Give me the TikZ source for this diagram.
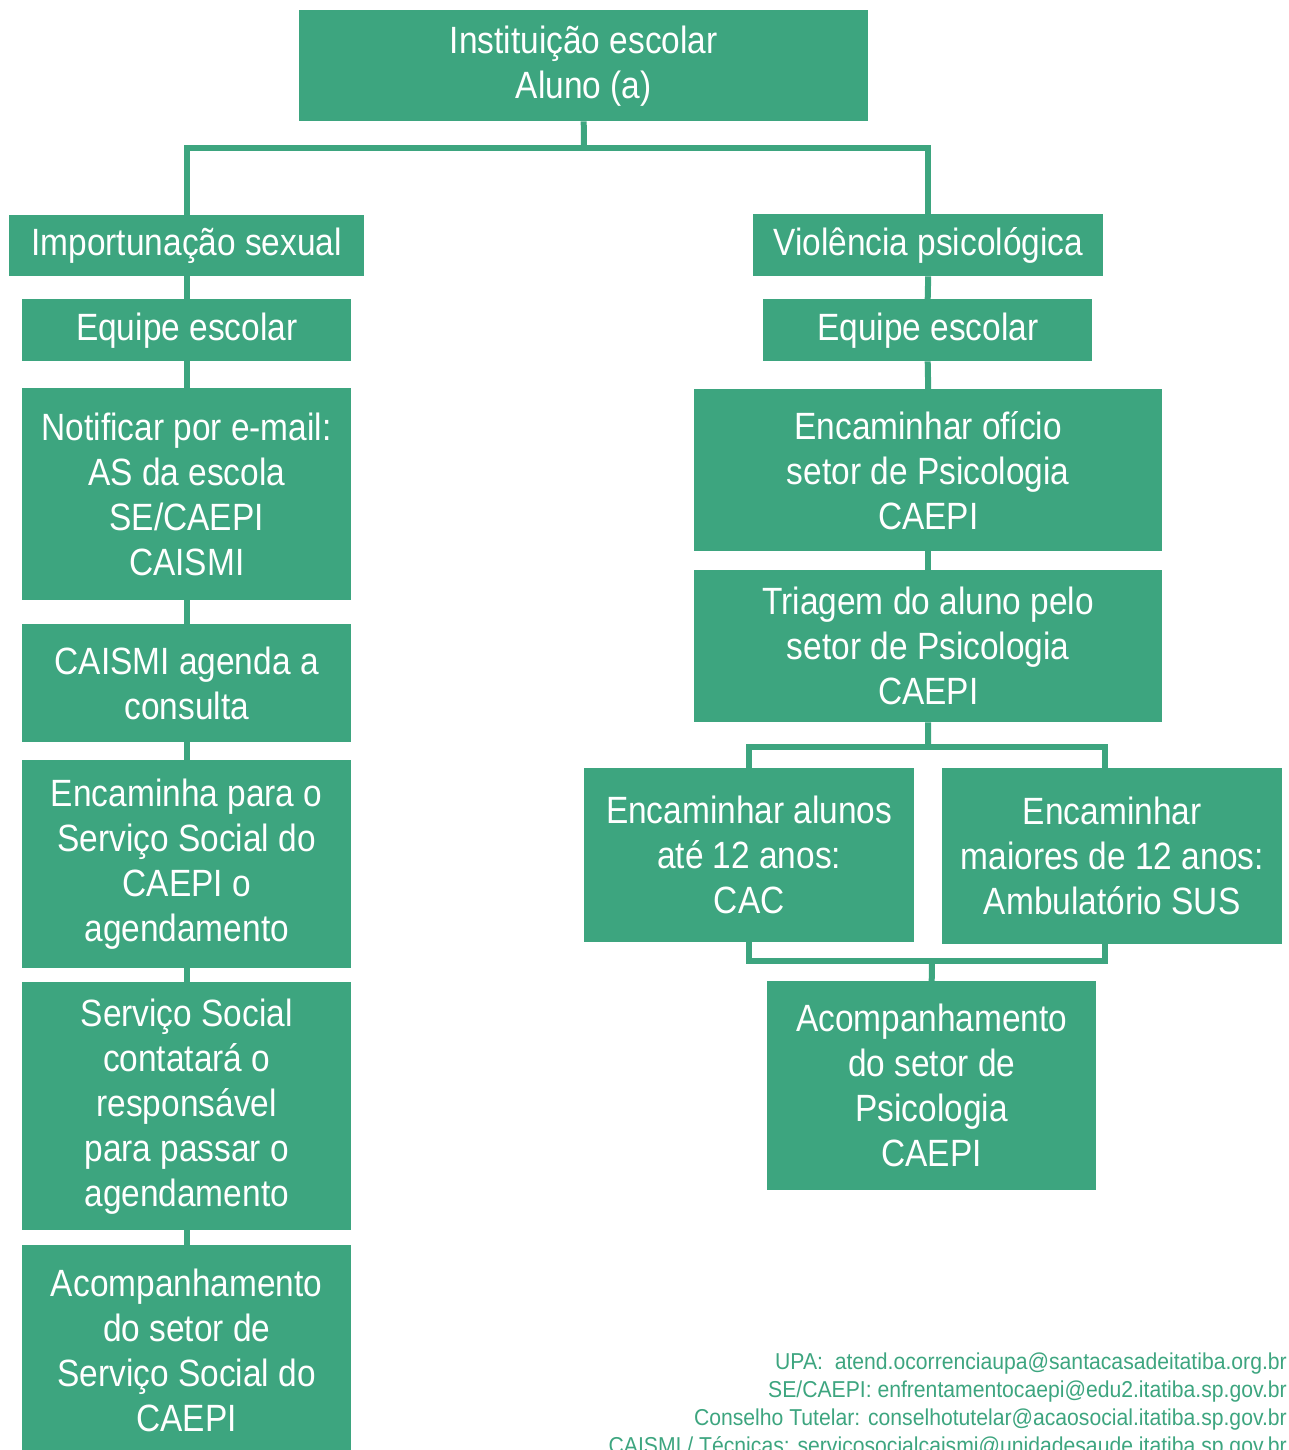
\documentclass[tikz,border=0pt]{standalone}
\usepackage{fontspec}
\setmainfont{Liberation Sans}[FakeStretch=0.88]
\newfontfamily\footfont{Liberation Sans}[FakeStretch=0.92]
\definecolor{gr}{RGB}{61,165,127}
\begin{document}
\begin{tikzpicture}[x=1pt,y=-1pt,
  box/.style={fill=gr, text=white, inner sep=0pt, align=center, anchor=north west,
    font=\fontsize{38}{45}\selectfont},
  conn/.style={draw=gr, line width=6pt},
  foot/.style={text=gr, inner sep=0pt, anchor=base east, font=\footfont\fontsize{23}{28}\selectfont}]
\useasboundingbox (0,0) rectangle (1288,1450);
% top
\node[box, minimum width=569, minimum height=111] (top) at (299,10) {Instituição escolar\\Aluno (a)};
\node[box, minimum width=355, minimum height=61] (imp) at (9,215) {Importunação sexual};
\node[box, minimum width=350, minimum height=62] (vio) at (753,214) {Violência psicológica};
% left column
\node[box, minimum width=329, minimum height=62] (eq1) at (22,299) {Equipe escolar};
\node[box, minimum width=329, minimum height=212] (not) at (22,388) {Notificar por e-mail:\\AS da escola\\SE/CAEPI\\CAISMI};
\node[box, minimum width=329, minimum height=118] (cai) at (22,624) {CAISMI agenda a\\consulta};
\node[box, minimum width=329, minimum height=208] (enc) at (22,760) {Encaminha para o\\Serviço Social do\\CAEPI o\\agendamento};
\node[box, minimum width=329, minimum height=248] (ser) at (22,982) {Serviço Social\\contatará o\\responsável\\para passar o\\agendamento};
\node[box, minimum width=329, minimum height=210] (acl) at (22,1245) {Acompanhamento\\do setor de\\Serviço Social do\\CAEPI};
% right column
\node[box, minimum width=329, minimum height=62] (eq2) at (763,299) {Equipe escolar};
\node[box, minimum width=468, minimum height=162] (ofi) at (694,389) {Encaminhar ofício\\setor de Psicologia\\CAEPI};
\node[box, minimum width=468, minimum height=152] (tri) at (694,570) {Triagem do aluno pelo\\setor de Psicologia\\CAEPI};
\node[box, minimum width=330, minimum height=174] (cac) at (584,768) {Encaminhar alunos\\até 12 anos:\\CAC};
\node[box, minimum width=340, minimum height=176] (sus) at (942,768) {Encaminhar\\maiores de 12 anos:\\Ambulatório SUS};
\node[box, minimum width=329, minimum height=209] (acr) at (767,981) {Acompanhamento\\do setor de\\Psicologia\\CAEPI};
% connectors
\coordinate (j1) at (584,148);
\coordinate (j2) at (928,747);
\coordinate (j3) at (932,961);
\coordinate (sx) at (1105,0);
\draw[conn] (top.south) -- (j1);
\draw[conn] (imp.north) |- (j1) -| (vio.north);
\draw[conn] (imp.south) -- (eq1.north);
\draw[conn] (eq1.south) -- (not.north);
\draw[conn] (not.south) -- (cai.north);
\draw[conn] (cai.south) -- (enc.north);
\draw[conn] (enc.south) -- (ser.north);
\draw[conn] (ser.south) -- (acl.north);
\draw[conn] (vio.south) -- (eq2.north);
\draw[conn] (eq2.south) -- (ofi.north);
\draw[conn] (ofi.south) -- (tri.north);
\draw[conn] (tri.south) -- (j2);
\draw[conn] (cac.north) |- (j2) -| (sus.north -| sx);
\draw[conn] (cac.south) |- (j3);
\draw[conn] (sus.south -| sx) |- (j3);
\draw[conn] (j3) -- (acr.north);
% footer
\node[foot] (f1) at (1287,1369) {UPA:\ \ atend.ocorrenciaupa@santacasadeitatiba.org.br};
\node[foot] (f2) at (1287,1397) {SE/CAEPI: enfrentamentocaepi@edu2.itatiba.sp.gov.br};
\node[foot] (f3) at (1287,1425) {Conselho Tutelar: conselhotutelar@acaosocial.itatiba.sp.gov.br};
\node[foot] (f4) at (1287,1453) {CAISMI / Técnicas: servicosocialcaismi@unidadesaude.itatiba.sp.gov.br};
\end{tikzpicture}
\end{document}
